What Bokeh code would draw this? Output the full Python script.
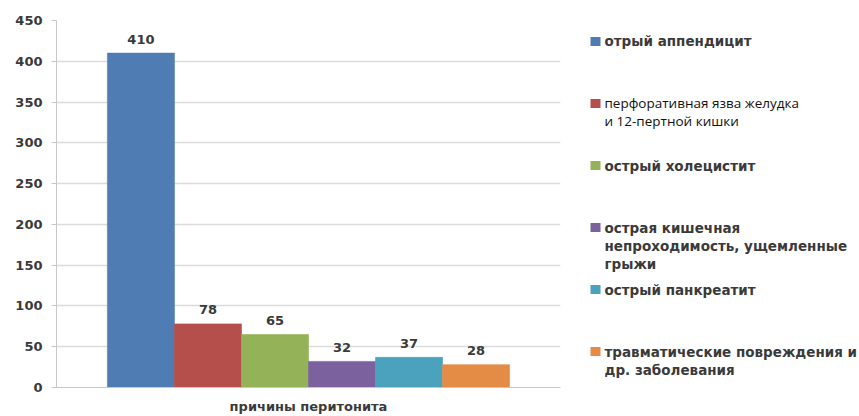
from bokeh.plotting import figure
from bokeh.layouts import row
from bokeh.models import ColumnDataSource, FactorRange, Range1d, FixedTicker
from bokeh.transform import dodge
from bokeh.core.properties import value
from bokeh.embed import file_html
from bokeh.resources import INLINE

# Peritonitis causes, number of cases
group = "причины перитонита"
causes = [
    "отрый аппендицит",
    "перфоративная язва желудка\nи 12-пертной кишки",
    "острый холецистит",
    "острая кишечная\nнепроходимость, ущемленные\nгрыжи",
    "острый панкреатит",
    "травматические повреждения и\nдр. заболевания",
]
cases = [410, 78, 65, 32, 37, 28]
colors = ["#4F7DB3", "#B54F4C", "#94B257", "#7B619E", "#4BA2BC", "#E48C45"]
y_ticks = [0, 50, 100, 150, 200, 250, 300, 350, 400, 450]

BOLD = "DejaVu Sans"
TEXT = "#3a3a3a"
FS = "13px"

p = figure(
    width=575, height=416,
    x_range=FactorRange(group, range_padding=0),
    y_range=Range1d(0, 450),
    output_backend="svg", toolbar_location=None,
    min_border_left=56, min_border_right=15,
    min_border_top=20, min_border_bottom=28,
)
p.outline_line_color = None
p.background_fill_color = "white"
p.border_fill_color = "white"

bar_w = 0.133
for i, (c, v, col) in enumerate(zip(causes, cases, colors)):
    src = ColumnDataSource(dict(x=[group], y=[v], lbl=[str(v)]))
    off = (i - 2.5) * bar_w
    p.vbar(x=dodge("x", off, range=p.x_range), top="y", width=bar_w,
           source=src, fill_color=col, line_color=col, line_alpha=0.6)
    p.text(x=dodge("x", off, range=p.x_range), y="y", text="lbl", source=src,
           text_font=value(BOLD), text_font_style="bold",
           text_font_size=FS, text_color=TEXT,
           text_align="center", text_baseline="middle", y_offset=-14)

# y axis
p.yaxis.ticker = FixedTicker(ticks=y_ticks)
p.yaxis.axis_line_color = "#c8c8c8"
p.yaxis.major_tick_line_color = "#c8c8c8"
p.yaxis.major_tick_out = 5
p.yaxis.major_tick_in = 0
p.yaxis.minor_tick_line_color = None
p.yaxis.major_label_text_font = BOLD
p.yaxis.major_label_text_font_style = "bold"
p.yaxis.major_label_text_font_size = FS
p.yaxis.major_label_text_color = TEXT
p.yaxis.major_label_standoff = 9

# x axis
p.xaxis.axis_line_color = "#c8c8c8"
p.xaxis.major_tick_line_color = None
p.xaxis.major_label_text_font = BOLD
p.xaxis.major_label_text_font_style = "bold"
p.xaxis.major_label_text_font_size = FS
p.xaxis.major_label_text_color = TEXT
p.xaxis.major_label_standoff = 5

p.xgrid.grid_line_color = None
p.ygrid.grid_line_color = "#dcdcdc"
p.ygrid.grid_line_width = 1.5

# legend panel; its frame lines up with the chart frame (page rows 20..388),
# so the y range is expressed in page pixel rows
lg = figure(
    width=284, height=416,
    x_range=Range1d(0, 284), y_range=Range1d(388, 20),
    output_backend="svg", toolbar_location=None,
    min_border_left=0, min_border_right=0,
    min_border_top=20, min_border_bottom=28,
)
lg.axis.visible = False
lg.grid.visible = False
lg.outline_line_color = None

row_y = [41 + 62.2 * i for i in range(len(causes))]
lg.rect(x=20, y=row_y, width=10, height=9, fill_color=colors, line_color=None)

bold_idx = [i for i in range(len(causes)) if i != 1]
lg.text(x=29, y=[row_y[i] - 8 for i in bold_idx], text=[causes[i] for i in bold_idx],
        text_font=value(BOLD), text_font_style="bold", text_font_size="13.5px",
        text_color=TEXT, text_baseline="top", text_line_height=1.14)
lg.text(x=29, y=[row_y[1] - 9], text=[causes[1]],
        text_font=value("Open Sans"), text_font_size="13.5px",
        text_color="#111111", text_baseline="top", text_line_height=0.97)

layout = row(p, lg)
open("out.html", "w").write(file_html(layout, INLINE))
